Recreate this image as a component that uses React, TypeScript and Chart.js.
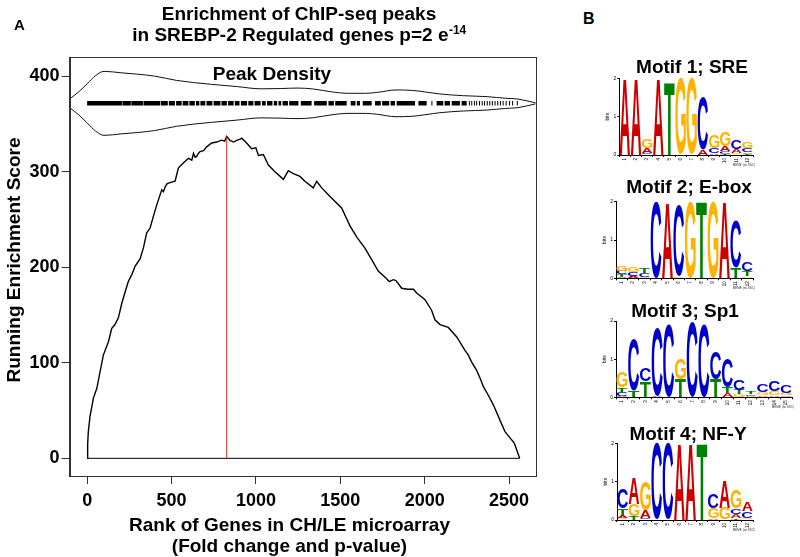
import React, { useEffect, useRef } from "react";
import { Chart, registerables } from "chart.js";
Chart.register(...registerables);

const FONT = '"Liberation Sans", Arial, Helvetica, sans-serif';

// ---------- Panel A data ----------
const runRanks = [0, 3, 7, 17, 37, 57, 77, 96, 126, 146, 165, 185, 205, 225, 244, 264, 284, 314, 333, 353, 373, 392, 412, 442, 452, 462, 472, 481, 500, 521, 531, 541, 570, 600, 620, 630, 640, 649, 659, 669, 690, 708, 738, 768, 797, 815, 827, 845, 867, 890, 906, 916, 945, 975, 1000, 1015, 1044, 1074, 1113, 1163, 1192, 1222, 1261, 1290, 1340, 1360, 1390, 1439, 1508, 1558, 1600, 1646, 1686, 1725, 1775, 1790, 1814, 1830, 1864, 1900, 1933, 1953, 2002, 2041, 2061, 2091, 2140, 2190, 2239, 2259, 2278, 2308, 2328, 2348, 2377, 2407, 2446, 2476, 2489, 2531, 2563];
const runScores = [0, 15, 28, 44, 63, 73, 91, 108, 122, 136, 140, 147, 162, 174, 185, 192, 201, 209, 220, 236, 241, 253, 265, 281, 279, 284, 287, 288, 289, 290, 297, 304, 309, 314, 312, 319, 315, 316, 319, 321, 322, 326, 330, 331, 333, 332, 337, 333, 331, 333, 334, 335, 330, 324, 325, 317, 318, 307, 300, 292, 301, 298, 295, 290, 283, 290, 283, 274, 262, 243, 231, 220, 208, 196, 188, 185, 187, 186, 178, 177, 177, 173, 166, 155, 145, 140, 137, 127, 113, 108, 101, 92, 84, 75, 66, 56, 40, 28, 25, 16, 0];
const lastRank = 2563;
const peakRank = 827;
const peakScore = 337;

const densRanks = [-104, -50, 0, 50, 100, 200, 300, 400, 530, 730, 890, 1030, 1150, 1250, 1340, 1450, 1540, 1650, 1720, 1830, 1930, 2000, 2090, 2230, 2370, 2480, 2553, 2658];
const densHalfWidth = [4.5, 12, 20.5, 29, 33.5, 32, 30.5, 28.5, 24, 20, 17.5, 15.2, 15.5, 16, 15, 12, 10.5, 10.5, 11.5, 14, 13.5, 12, 9.8, 8, 7, 5.3, 4.5, 0.5];
const densCenter = 371.5;

const rugRuns = [
  [0, 206], [209, 259], [262, 331], [334, 432], [436, 478], [484, 520], [527, 560], [566, 600], [606, 638], [645, 665], [671, 700], [707, 742], [749, 790], [796, 828], [835, 868], [875, 903], [911, 948], [955, 985], [992, 1028], [1036, 1058], [1066, 1098], [1106, 1126], [1134, 1150], [1158, 1190], [1197, 1252], [1266, 1330], [1345, 1420], [1430, 1462], [1470, 1538], [1562, 1590], [1598, 1617], [1633, 1686], [1706, 1740], [1748, 1790], [1798, 1824], [1834, 1943], [1963, 2012], [2040, 2046], [2071, 2110], [2118, 2150], [2160, 2209], [2219, 2249], [2262, 2268], [2276, 2282], [2292, 2298], [2305, 2311], [2322, 2328], [2338, 2344], [2352, 2358], [2368, 2374], [2383, 2389], [2398, 2404], [2414, 2420], [2430, 2436], [2446, 2452], [2462, 2468], [2480, 2486], [2500, 2506], [2518, 2524], [2546, 2552],
];

const xTicks = [0, 500, 1000, 1500, 2000, 2500];
const yTicks = [0, 100, 200, 300, 400];
const xRange = [-104, 2658];
const yRange = [-18.5, 420];

const titleLine1 = "Enrichment of ChIP-seq peaks";
const titleLine2 = "in SREBP-2 Regulated genes p=2 e";
const titleSup = "-14";
const xTitle = ["Rank of Genes in CH/LE microarray", "(Fold change and p-value)"];
const yTitle = "Running Enrichment Score";
const densityLabel = "Peak Density";
const densityLabelPos = [1095, 403];

// ---------- Panel B data ----------
const motifTitles = ["Motif 1; SRE", "Motif 2; E-box", "Motif 3; Sp1", "Motif 4; NF-Y"];

const motif1Letters = ["A", "A", "CAG", "A", "T", "G", "G", "AC", "ACG", "TCAG", "GAC", "TACG"];
const motif1Heights = [[2.0], [2.0], [0.06, 0.12, 0.22], [2.0], [1.9], [2.0], [2.0], [0.15, 1.37], [0.06, 0.12, 0.34], [0.03, 0.08, 0.12, 0.37], [0.05, 0.1, 0.24], [0.03, 0.04, 0.1, 0.17]];

const motif2Letters = ["ATCG", "ACG", "GCT", "C", "A", "GC", "G", "T", "G", "A", "TC", "GTC"];
const motif2Heights = [[0.04, 0.06, 0.1, 0.12], [0.07, 0.1, 0.12], [0.04, 0.1, 0.14], [2.0], [1.98], [0.05, 1.86], [2.0], [2.0], [2.0], [2.0], [0.28, 1.24], [0.06, 0.12, 0.22]];

const motif3Letters = ["ACTG", "TC", "TC", "AC", "C", "TG", "C", "C", "TC", "ATC", "GTC", "GCT", "AGC", "AGC", "AGC"];
const motif3Heights = [[0.03, 0.09, 0.14, 0.4], [0.17, 1.33], [0.42, 0.35], [0.03, 1.8], [1.9], [0.47, 0.55], [1.98], [1.91], [0.48, 0.72], [0.1, 0.15, 0.77], [0.08, 0.12, 0.27], [0.04, 0.04, 0.07], [0.05, 0.08, 0.22], [0.06, 0.1, 0.27], [0.05, 0.07, 0.2]];

const motif4Letters = ["GATC", "TGA", "CAG", "C", "C", "A", "A", "T", "AGC", "GA", "TACG", "GCA"];
const motif4Heights = [[0.06, 0.07, 0.18, 0.52], [0.1, 0.32, 0.67], [0.04, 0.2, 0.76], [2.0], [2.0], [2.0], [2.0], [2.0], [0.04, 0.28, 0.38], [0.32, 0.72], [0.05, 0.1, 0.15, 0.48], [0.05, 0.18, 0.25]];

const letterColors: Record<string, string> = { A: "#cc0000", C: "#0000cc", G: "#ffb300", T: "#008000" };

// layout of logos (page px)
const logoLayouts = [
  { left: 619.3, right: 753, top: 78.3, bottom: 155, titleX: 692, titleY: 73.3 },
  { left: 616, right: 753, top: 201.7, bottom: 278.3, titleX: 689, titleY: 193 },
  { left: 616, right: 792, top: 321, bottom: 397.3, titleX: 685, titleY: 317 },
  { left: 617, right: 753, top: 443.3, bottom: 520, titleX: 688, titleY: 439.5 },
];

function MainChart() {
  const ref = useRef<HTMLCanvasElement>(null);
  useEffect(() => {
    const canvas = ref.current!;
    const runData = runRanks.map((x, i) => ({ x, y: runScores[i] }));
    const baseData = [{ x: 0, y: 0 }, { x: lastRank, y: 0 }];
    const redData = [{ x: peakRank, y: 0 }, { x: peakRank, y: peakScore }];
    const upper = densRanks.map((x, i) => ({ x, y: densCenter + densHalfWidth[i] }));
    const lower = densRanks.map((x, i) => ({ x, y: densCenter - densHalfWidth[i] }));
    const rug: any[] = [];
    rugRuns.forEach(([s, e]) => {
      rug.push({ x: s, y: densCenter }, { x: e, y: densCenter }, { x: e + 0.5, y: null });
    });

    const deco = {
      id: "deco",
      afterDraw(chart: any) {
        const { ctx, chartArea: a, scales } = chart;
        ctx.save();
        ctx.strokeStyle = "#333";
        ctx.lineWidth = 1;
        ctx.strokeRect(Math.round(a.left) + 0.5, Math.round(a.top) + 0.5, Math.round(a.right - a.left), Math.round(a.bottom - a.top));
        ctx.fillStyle = "#000";
        ctx.font = `bold 15px ${FONT}`;
        ctx.textAlign = "left";
        ctx.textBaseline = "alphabetic";
        ctx.fillText("A", 14, 30.4);
        ctx.font = `bold 19px ${FONT}`;
        ctx.textAlign = "center";
        ctx.fillText(titleLine1, 299, 19.6);
        const w1 = ctx.measureText(titleLine2).width;
        ctx.font = `bold 12px ${FONT}`;
        const w2 = ctx.measureText(titleSup).width;
        const start = 299 - (w1 + w2) / 2;
        ctx.textAlign = "left";
        ctx.font = `bold 19px ${FONT}`;
        ctx.fillText(titleLine2, start, 41);
        ctx.font = `bold 12px ${FONT}`;
        ctx.fillText(titleSup, start + w1 + 0.5, 34);
        ctx.font = `bold 19px ${FONT}`;
        ctx.textAlign = "center";
        ctx.fillText(densityLabel, scales.x.getPixelForValue(densityLabelPos[0]), scales.y.getPixelForValue(densityLabelPos[1]) + 6.5);
        ctx.fillText(xTitle[0], 289.5, 531);
        ctx.fillText(xTitle[1], 289.5, 551.5);
        ctx.translate(19.5, 260);
        ctx.rotate(-Math.PI / 2);
        ctx.fillText(yTitle, 0, 0);
        ctx.restore();
      },
    };

    const tickFont = { family: FONT, size: 18, weight: "bold" as const };
    const chart = new Chart(canvas, {
      type: "line",
      data: {
        datasets: [
          { data: redData, borderColor: "#e02424", borderWidth: 1, pointRadius: 0 },
          { data: runData, borderColor: "#000", borderWidth: 1.4, pointRadius: 0, tension: 0 },
          { data: baseData, borderColor: "#000", borderWidth: 1, pointRadius: 0 },
          { data: upper, borderColor: "#111", borderWidth: 1, pointRadius: 0, cubicInterpolationMode: "monotone" },
          { data: lower, borderColor: "#111", borderWidth: 1, pointRadius: 0, cubicInterpolationMode: "monotone" },
          { data: rug, borderColor: "#000", borderWidth: 4.5, pointRadius: 0, spanGaps: false, borderCapStyle: "butt" },
        ] as any,
      },
      options: {
        animation: false,
        responsive: false,
        maintainAspectRatio: false,
        layout: { padding: { top: 57, right: 24.3, left: 0, bottom: 0 } },
        plugins: { legend: { display: false }, tooltip: { enabled: false }, title: { display: false } },
        scales: {
          x: {
            type: "linear",
            min: xRange[0],
            max: xRange[1],
            afterBuildTicks: (s: any) => { s.ticks = xTicks.map((v) => ({ value: v })); },
            afterFit: (s: any) => { s.height = 81; },
            ticks: { font: tickFont, color: "#000", padding: 6, maxRotation: 0, callback: (v: any) => String(v) },
            grid: { drawOnChartArea: false, drawTicks: true, tickLength: 8, color: "#333" },
            border: { display: true, color: "#333" },
          },
          y: {
            type: "linear",
            min: yRange[0],
            max: yRange[1],
            afterBuildTicks: (s: any) => { s.ticks = yTicks.map((v) => ({ value: v })); },
            afterFit: (s: any) => { s.width = 69.6; },
            ticks: { font: tickFont, color: "#000", padding: 2, callback: (v: any) => String(v) },
            grid: { drawOnChartArea: false, drawTicks: true, tickLength: 8, color: "#333" },
            border: { display: true, color: "#333" },
          },
        },
      } as any,
      plugins: [deco],
    });
    return () => chart.destroy();
  }, []);
  return <canvas ref={ref} width={560} height={557} style={{ position: "absolute", left: 0, top: 0, width: 560, height: 557 }} />;
}

function LogoChart({ letters, heights, title, lay }: { letters: string[]; heights: number[][]; title: string; lay: any }) {
  const ref = useRef<HTMLCanvasElement>(null);
  const cl = 588;
  const cw = 212;
  const ct = Math.round(lay.top - 42);
  const ch = Math.round(lay.bottom - ct + 22);
  useEffect(() => {
    const canvas = ref.current!;
    const layers = Math.max(...heights.map((h) => h.length));
    const datasets: any[] = [];
    for (let l = 0; l < layers; l++) {
      datasets.push({
        data: heights.map((h) => h[l] ?? 0),
        backgroundColor: "rgba(0,0,0,0)",
        borderWidth: 0,
        barPercentage: 0.94,
        categoryPercentage: 1,
      });
    }
    const yW = 14;
    const xH = 10;
    const logoPlugin = {
      id: "logo",
      afterDatasetsDraw(chart: any) {
        const ctx = chart.ctx;
        ctx.save();
        ctx.font = `bold 100px ${FONT}`;
        ctx.textAlign = "left";
        ctx.textBaseline = "alphabetic";
        chart.data.datasets.forEach((ds: any, l: number) => {
          const meta = chart.getDatasetMeta(l);
          meta.data.forEach((bar: any, j: number) => {
            const hv = ds.data[j];
            const letter = letters[j][l];
            if (!letter || hv < 0.015) return;
            const p = bar.getProps(["x", "y", "base", "width"], true);
            const top = Math.min(p.y, p.base);
            const bh = Math.abs(p.base - p.y);
            const left = p.x - p.width / 2;
            const m = ctx.measureText(letter);
            const gw = m.actualBoundingBoxLeft + m.actualBoundingBoxRight;
            const gh = m.actualBoundingBoxAscent + m.actualBoundingBoxDescent;
            ctx.save();
            ctx.translate(left, top);
            ctx.scale(p.width / gw, bh / gh);
            ctx.fillStyle = letterColors[letter];
            ctx.fillText(letter, m.actualBoundingBoxLeft, m.actualBoundingBoxAscent);
            ctx.restore();
          });
        });
        ctx.restore();
      },
      afterDraw(chart: any) {
        const ctx = chart.ctx;
        const a = chart.chartArea;
        ctx.save();
        ctx.fillStyle = "#000";
        ctx.font = `bold 19px ${FONT}`;
        ctx.textAlign = "center";
        ctx.textBaseline = "alphabetic";
        ctx.fillText(title, lay.titleX - cl, lay.titleY - ct);
        ctx.font = `5px ${FONT}`;
        ctx.translate(a.left - 10, (a.top + a.bottom) / 2);
        ctx.rotate(-Math.PI / 2);
        ctx.fillText("bits", 0, 0);
        ctx.restore();
        ctx.save();
        ctx.fillStyle = "#333";
        ctx.font = `3px ${FONT}`;
        ctx.textAlign = "right";
        ctx.fillText("MEME (no SSC)", a.right + 2, a.bottom + 11);
        ctx.restore();
      },
    };
    const chart = new Chart(canvas, {
      type: "bar",
      data: { labels: letters.map((_, i) => String(i + 1)), datasets },
      options: {
        animation: false,
        responsive: false,
        maintainAspectRatio: false,
        layout: {
          padding: {
            left: lay.left - cl - yW,
            right: cl + cw - lay.right,
            top: lay.top - ct,
            bottom: ct + ch - lay.bottom - xH,
          },
        },
        plugins: { legend: { display: false }, tooltip: { enabled: false } },
        scales: {
          x: {
            stacked: true,
            afterFit: (s: any) => { s.height = xH; },
            ticks: { font: { family: FONT, size: 4.5 }, color: "#000", minRotation: 90, maxRotation: 90, autoSkip: false, padding: 1 },
            grid: { drawOnChartArea: false, drawTicks: true, tickLength: 2, color: "#000" },
            border: { display: true, color: "#000" },
          },
          y: {
            stacked: true,
            min: 0,
            max: 2,
            afterBuildTicks: (s: any) => { s.ticks = [0, 1, 2].map((v) => ({ value: v })); },
            afterFit: (s: any) => { s.width = yW; },
            ticks: { font: { family: FONT, size: 5 }, color: "#000", padding: 1 },
            grid: { drawOnChartArea: false, drawTicks: true, tickLength: 2, color: "#000" },
            border: { display: true, color: "#000" },
          },
        },
      } as any,
      plugins: [logoPlugin],
    });
    return () => chart.destroy();
  }, []);
  return <canvas ref={ref} width={cw} height={ch} style={{ position: "absolute", left: cl, top: ct, width: cw, height: ch }} />;
}

export default function App() {
  const motifs = [
    { letters: motif1Letters, heights: motif1Heights },
    { letters: motif2Letters, heights: motif2Heights },
    { letters: motif3Letters, heights: motif3Heights },
    { letters: motif4Letters, heights: motif4Heights },
  ];
  return (
    <div style={{ position: "absolute", left: 0, top: 0, width: 800, height: 557, background: "#fff", overflow: "hidden" }}>
      <MainChart />
      <div style={{ position: "absolute", left: 583, top: 9, font: `bold 16px ${FONT}`, lineHeight: "20px", color: "#000" }}>B</div>
      {motifs.map((m, i) => (
        <LogoChart key={i} letters={m.letters} heights={m.heights} title={motifTitles[i]} lay={logoLayouts[i]} />
      ))}
    </div>
  );
}
